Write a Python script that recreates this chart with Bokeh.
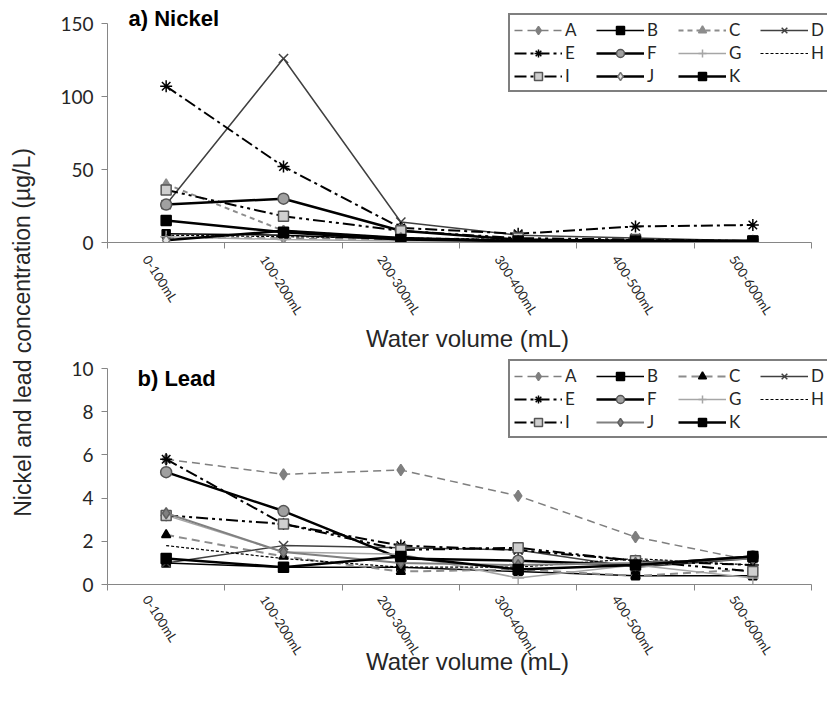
from bokeh.plotting import figure
from bokeh.layouts import row, column
from bokeh.models import Label, Legend, LegendItem, FixedTicker, Range1d
from bokeh.embed import file_html
from bokeh.resources import INLINE

categories = ["0-100mL", "100-200mL", "200-300mL", "300-400mL", "400-500mL", "500-600mL"]
series_names = ["A", "B", "C", "D", "E", "F", "G", "H", "I", "J", "K"]

nickel_A = [3, 3, 2, 1, 1, 1]
nickel_B = [6, 5, 2, 1, 1, 1]
nickel_C = [40, 8, 3, 2, 1, 1]
nickel_D = [26, 126, 14, 5, 3, 1]
nickel_E = [107, 52, 10, 6, 11, 12]
nickel_F = [26, 30, 8, 2, 1, 1]
nickel_G = [4, 2, 1, 1, 1, 1]
nickel_H = [5, 4, 3, 2, 2, 1]
nickel_I = [36, 18, 8, 3, 2, 1]
nickel_J = [1.5, 8, 3, 1, 1, 1]
nickel_K = [15, 7, 2, 1, 1, 1]

lead_A = [5.8, 5.1, 5.3, 4.1, 2.2, 1.1]
lead_B = [1.0, 0.8, 0.8, 0.6, 0.4, 0.4]
lead_C = [2.3, 1.3, 0.6, 0.7, 0.4, 0.7]
lead_D = [1.0, 1.8, 1.7, 1.6, 0.8, 1.2]
lead_E = [5.8, 2.8, 1.8, 1.6, 1.1, 0.9]
lead_F = [5.2, 3.4, 1.2, 1.1, 0.9, 1.3]
lead_G = [3.2, 1.5, 1.4, 0.3, 0.9, 0.3]
lead_H = [1.8, 1.2, 0.8, 0.8, 1.2, 0.9]
lead_I = [3.2, 2.8, 1.6, 1.7, 1.1, 0.6]
lead_J = [3.3, 1.5, 1.0, 0.9, 1.0, 1.2]
lead_K = [1.2, 0.8, 1.3, 0.7, 0.9, 1.3]

nickel = [nickel_A, nickel_B, nickel_C, nickel_D, nickel_E, nickel_F,
          nickel_G, nickel_H, nickel_I, nickel_J, nickel_K]
lead = [lead_A, lead_B, lead_C, lead_D, lead_E, lead_F,
        lead_G, lead_H, lead_I, lead_J, lead_K]

nickel_ticks = [0, 50, 100, 150]
lead_ticks = [0, 2, 4, 6, 8, 10]

# style: (line_color, line_width, dash, marker, size, fill, marker_line)
styles_top = {
    "A": ("#7f7f7f", 1.5, "8 5", "diamond", 11, "#7f7f7f", "#7f7f7f"),
    "B": ("#000000", 1.5, "solid", "square", 8, "#000000", "#000000"),
    "C": ("#8c8c8c", 2, "5 4", "triangle", 9, "#8c8c8c", "#8c8c8c"),
    "D": ("#404040", 1.5, "solid", "x", 13, None, "#404040"),
    "E": ("#000000", 2, "12 4 3 4", "asterisk", 12, None, "#000000"),
    "F": ("#000000", 2.5, "solid", "circle", 11, "#a0a0a0", "#555555"),
    "G": ("#a6a6a6", 1.5, "solid", "cross", 12, None, "#a6a6a6"),
    "H": ("#000000", 1.2, "3 2", None, 0, None, None),
    "I": ("#000000", 2, "12 4 3 4 3 4", "square", 10, "#cfcfcf", "#555555"),
    "J": ("#000000", 2.5, "solid", "diamond", 11, "#e6e6e6", "#777777"),
    "K": ("#000000", 2.5, "solid", "square", 10, "#000000", "#000000"),
}
styles_bot = dict(styles_top)
styles_bot["C"] = ("#8c8c8c", 2, "8 5", "triangle", 9, "#000000", "#000000")
styles_bot["J"] = ("#808080", 2, "solid", "diamond", 11, "#808080", "#606060")

TICK_FONT = "Lato"
TEXT_COLOR = "#262626"
AXIS_COLOR = "#868686"
LABEL_SHIFT = 0.17   # Excel-like placement of the slanted category labels
LEGEND_ROWS = 3
FIG_W = 787
LEFT = 67            # frame left offset inside the figure
AXIS_LEN = 704       # pixel length of the drawn x axis (0..6 categories)


def make_panel(data, ticks, ymax, styles, title, height, top_px, axis_top_px, bottom_px,
               title_x, title_y, legend_y, label_standoff, title_standoff):
    ncat = len(categories)
    frame_w = FIG_W - LEFT
    x_end = ncat * frame_w / AXIS_LEN
    y_end = ymax * (bottom_px - top_px) / (bottom_px - axis_top_px)
    p = figure(width=FIG_W, height=height, output_backend="svg", toolbar_location=None,
               x_range=Range1d(0, x_end), y_range=Range1d(0, y_end),
               min_border_left=LEFT, min_border_right=0,
               min_border_top=top_px, min_border_bottom=height - bottom_px)
    p.outline_line_color = None
    p.xgrid.visible = False
    p.ygrid.visible = False
    p.background_fill_color = "white"

    xs = [i + 0.5 for i in range(ncat)]
    items = {}
    for name, ys in zip(series_names, data):
        lc, lw, dash, marker, size, fill, mline = styles[name]
        rs = [p.line(xs, ys, line_color=lc, line_width=lw, line_dash=dash)]
        if marker:
            rs.append(p.scatter(xs, ys, marker=marker, size=size,
                                fill_color=fill, line_color=mline, line_width=1.5))
        items[name] = LegendItem(label=name, renderers=rs)

    # legend fills column by column -> reorder so it reads row by row
    ncols = 4
    ordered = []
    for c in range(ncols):
        for r in range(LEGEND_ROWS):
            k = r * ncols + c
            if k < len(series_names):
                ordered.append(items[series_names[k]])

    # y axis
    ya = p.yaxis[0]
    ya.ticker = FixedTicker(ticks=ticks)
    ya.bounds = (0, ymax)
    ya.axis_line_color = AXIS_COLOR
    ya.major_tick_line_color = AXIS_COLOR
    ya.major_tick_out = 6
    ya.major_tick_in = 0
    ya.minor_tick_line_color = None
    ya.major_label_text_font = TICK_FONT
    ya.major_label_text_font_size = "19px"
    ya.major_label_text_color = TEXT_COLOR
    ya.major_label_standoff = 8

    # x axis: ticks on category boundaries, labels near category centres
    label_pos = [x - LABEL_SHIFT for x in xs]
    xa = p.xaxis[0]
    xa.bounds = (0, ncat)
    xa.ticker = FixedTicker(ticks=label_pos, minor_ticks=list(range(ncat + 1)))
    xa.major_label_overrides = {x: c for x, c in zip(label_pos, categories)}
    xa.axis_line_color = AXIS_COLOR
    xa.major_tick_line_color = None
    xa.major_tick_out = 0
    xa.major_tick_in = 0
    xa.minor_tick_line_color = AXIS_COLOR
    xa.minor_tick_out = 6
    xa.minor_tick_in = 0
    xa.major_label_orientation = -1.0
    xa.major_label_text_font = TICK_FONT
    xa.major_label_text_font_size = "13px"
    xa.major_label_text_color = TEXT_COLOR
    xa.major_label_standoff = label_standoff
    xa.axis_label = "Water volume (mL)"
    xa.axis_label_text_font = "Liberation Sans"
    xa.axis_label_text_font_style = "normal"
    xa.axis_label_text_font_size = "24px"
    xa.axis_label_text_color = TEXT_COLOR
    xa.axis_label_standoff = title_standoff

    lab = Label(x=title_x, y=title_y, x_units="screen", y_units="screen", text=title,
                text_font="Liberation Sans", text_font_style="bold",
                text_font_size="22px", text_color="#000000", text_baseline="middle")
    p.add_layout(lab)

    leg = Legend(items=ordered, ncols=ncols, location=(401, legend_y),
                 glyph_width=48, glyph_height=20, label_standoff=3, label_width=29,
                 spacing=2, padding=4, margin=0,
                 label_text_font=TICK_FONT, label_text_font_size="17px",
                 label_text_color=TEXT_COLOR, label_height=20,
                 border_line_color="#000000", border_line_width=2,
                 background_fill_color="white", background_fill_alpha=1)
    p.add_layout(leg)
    return p


top = make_panel(nickel, nickel_ticks, 150, styles_top, "a) Nickel", 354, 2, 23, 242,
                 21, 224, 150, 8, 0)
bot = make_panel(lead, lead_ticks, 10, styles_bot, "b) Lead", 352, 0, 14, 230,
                 30, 206, 146, 6, -17)

left = figure(width=40, height=706, output_backend="svg", toolbar_location=None,
              x_range=Range1d(0, 1), y_range=Range1d(0, 1), min_border=0)
left.axis.visible = False
left.grid.visible = False
left.outline_line_color = None
left.add_layout(Label(x=22, y=374, x_units="screen", y_units="screen",
                      text="Nickel and lead concentration (µg/L)", angle=1.5708,
                      text_align="center", text_baseline="middle",
                      text_font="Liberation Sans", text_font_size="23px",
                      text_color=TEXT_COLOR))

layout = row(left, column(top, bot, spacing=0), spacing=0)

open("out.html", "w").write(file_html(layout, INLINE))
